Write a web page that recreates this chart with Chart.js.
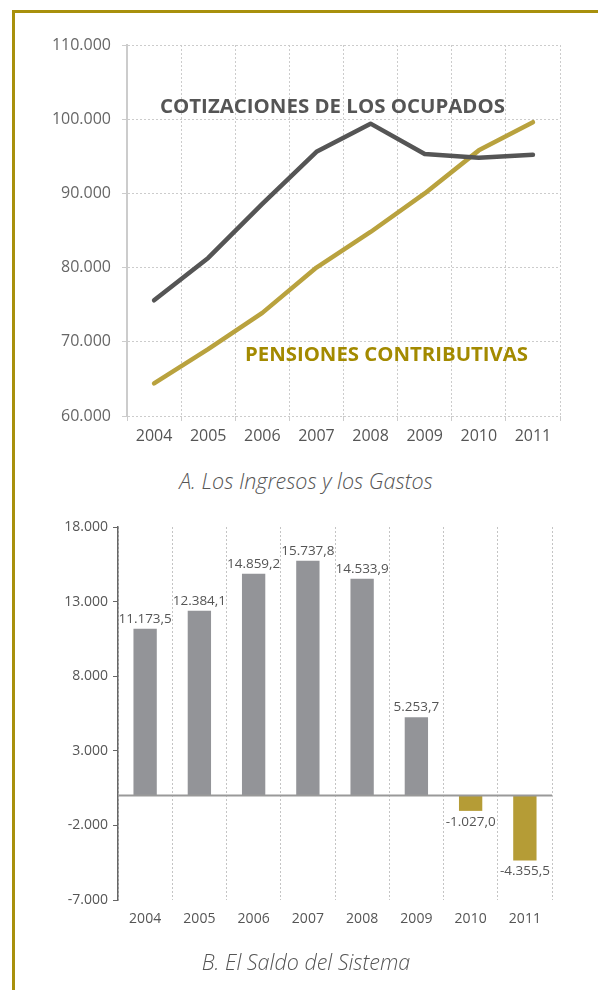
<!DOCTYPE html>
<html>
<head>
<meta charset="utf-8">
<script src="https://cdn.jsdelivr.net/npm/chart.js@4/dist/chart.umd.min.js"></script>
<style>
body{margin:0;background:#fff;width:598px;height:990px;overflow:hidden;position:relative;font-family:'Open Sans',sans-serif}
#frame{position:absolute;left:12px;top:10px;width:620px;height:1000px;border-left:3px solid #a8900c;border-top:3px solid #a8900c;box-sizing:border-box}
canvas{position:absolute;left:0}
.ttl{position:absolute;left:0;width:612px;text-align:center;font-style:italic;font-weight:300;font-size:21.5px;line-height:26px;color:#555}
</style>
</head>
<body>
<div id="frame"></div>
<canvas id="c1" width="598" height="460" style="top:0"></canvas>
<div class="ttl" style="top:468px">A. Los Ingresos y los Gastos</div>
<canvas id="c2" width="598" height="460" style="top:490px"></canvas>
<div class="ttl" style="top:949px">B. El Saldo del Sistema</div>
<script>
// datos
var years = ['2004', '2005', '2006', '2007', '2008', '2009', '2010', '2011'];
var cotizaciones = [75600, 81300, 88600, 95600, 99400, 95300, 94800, 95200];
var pensiones = [64400, 69000, 73900, 80000, 84800, 90000, 95800, 99600];
var saldo = [11173.5, 12384.1, 14859.2, 15737.8, 14533.9, 5253.7, -1027.0, -4355.5];

var GRIS = '#555555', ORO = '#b9a23e', ORO_TXT = '#a38a00';

function fmt(v, dec) {
	var s = Math.abs(v).toFixed(dec).split('.');
	var ent = s[0].replace(/\B(?=(\d{3})+(?!\d))/g, '.');
	return (v < 0 ? '-' : '') + ent + (s[1] ? ',' + s[1] : '');
}

// texto ajustado a un ancho
function fitText(ctx, txt, x, y, w, font, color) {
	ctx.save();
	ctx.font = font;
	ctx.fillStyle = color;
	ctx.textBaseline = 'middle';
	var sx = w / ctx.measureText(txt).width;
	ctx.translate(x, y);
	ctx.scale(sx, 1);
	ctx.fillText(txt, 0, 0);
	ctx.restore();
}

var rotulos = {
	id: 'rotulos',
	afterDatasetsDraw: function(chart) {
		var ctx = chart.ctx;
		fitText(ctx, 'COTIZACIONES DE LOS OCUPADOS', 160, 107, 345, 'bold 20px "Open Sans"', GRIS);
		fitText(ctx, 'PENSIONES CONTRIBUTIVAS', 245, 355, 283, 'bold 20px "Open Sans"', ORO_TXT);
	}
};

new Chart(document.getElementById('c1'), {
	type: 'line',
	data: {
		labels: years,
		datasets: [
			{ data: cotizaciones, borderColor: GRIS, borderWidth: 4.5, pointRadius: 0, borderCapStyle: 'round', borderJoinStyle: 'round', tension: 0 },
			{ data: pensiones, borderColor: ORO, borderWidth: 4.5, pointRadius: 0, borderCapStyle: 'round', borderJoinStyle: 'round', tension: 0 }
		]
	},
	options: {
		responsive: false,
		animation: false,
		events: [],
		layout: { padding: { left: 0, right: 38, top: 45, bottom: 0 } },
		plugins: { legend: { display: false }, tooltip: { enabled: false } },
		scales: {
			x: {
				offset: true,
				grid: { offset: true, color: '#cccccc', tickLength: 5, tickColor: '#cccccc' },
				border: { display: false, dash: [2, 2] },
				ticks: { color: '#555', font: { family: 'Open Sans', size: 16 }, padding: 6 },
				afterFit: function(s) { s.height = 44; }
			},
			y: {
				min: 60000, max: 110000,
				ticks: { stepSize: 10000, callback: function(v) { return fmt(v, 0); }, color: '#666', font: { family: 'Open Sans', size: 16 }, padding: 11 },
				grid: { color: '#cccccc', tickLength: 5, tickColor: '#cccccc' },
				border: { color: '#cccccc', width: 2, dash: [2, 2] },
				afterFit: function(s) { s.width = 127; }
			}
		}
	},
	plugins: [rotulos]
});

var etiquetas = {
	id: 'etiquetas',
	afterDatasetsDraw: function(chart) {
		var ctx = chart.ctx, a = chart.chartArea;
		var y0 = chart.scales.y.getPixelForValue(0);
		ctx.save();
		ctx.strokeStyle = '#999';
		ctx.lineWidth = 2;
		ctx.beginPath();
		ctx.moveTo(a.left, y0);
		ctx.lineTo(a.right, y0);
		ctx.stroke();
		ctx.font = '13.5px "Open Sans"';
		ctx.fillStyle = '#555';
		ctx.textAlign = 'center';
		ctx.textBaseline = 'middle';
		chart.getDatasetMeta(0).data.forEach(function(bar, i) {
			var v = saldo[i];
			ctx.fillText(fmt(v, 1), bar.x, v >= 0 ? bar.y - 10 : bar.y + 11);
		});
		ctx.restore();
	}
};

new Chart(document.getElementById('c2'), {
	type: 'bar',
	data: {
		labels: years,
		datasets: [{
			data: saldo,
			backgroundColor: saldo.map(function(v) { return v < 0 ? '#b59c36' : '#939498'; }),
			barPercentage: 0.43,
			categoryPercentage: 1
		}]
	},
	options: {
		responsive: false,
		animation: false,
		events: [],
		layout: { padding: { left: 0, right: 46, top: 37, bottom: 0 } },
		plugins: { legend: { display: false }, tooltip: { enabled: false } },
		scales: {
			x: {
				grid: { offset: true, color: '#c4c4c4', drawTicks: false },
				border: { display: false, dash: [2, 2] },
				ticks: { color: '#555', font: { family: 'Open Sans', size: 14 }, padding: 11 },
				afterFit: function(s) { s.height = 50; }
			},
			y: {
				min: -7000, max: 18000,
				ticks: { stepSize: 5000, callback: function(v) { return fmt(v, 0); }, color: '#555', font: { family: 'Open Sans', size: 14 }, padding: 5 },
				grid: { drawOnChartArea: false, tickLength: 5, tickColor: '#666' },
				border: { color: '#666', width: 1.5 },
				afterFit: function(s) { s.width = 118; }
			}
		}
	},
	plugins: [etiquetas]
});
</script>
</body>
</html>
